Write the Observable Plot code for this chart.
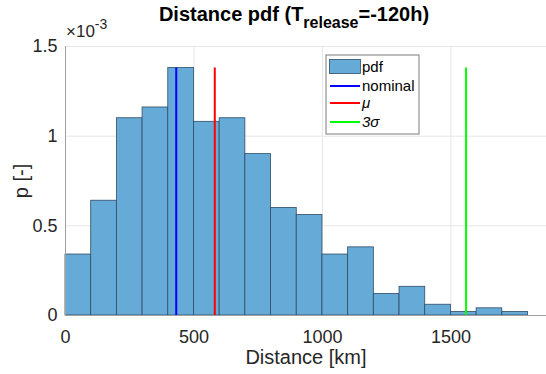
<!DOCTYPE html>
<html><head><meta charset="utf-8">
<script src="https://cdn.jsdelivr.net/npm/d3@7"></script>
<script src="https://cdn.jsdelivr.net/npm/@observablehq/plot@0.6"></script>
<style>
body{margin:0;background:#fff;font-family:"Liberation Sans",Arial,sans-serif;}
#wrap{position:relative;width:546px;height:374px;}
#title{position:absolute;left:0;width:588px;top:3px;text-align:center;font-weight:bold;font-size:20px;color:#000;white-space:nowrap;}
#title sub{font-size:16px;vertical-align:-7px;line-height:0;}
</style></head>
<body><div id="wrap"><div id="title">Distance pdf (T<sub>release</sub>=-120h)</div></div>
<script>
// bin edges (km) and pdf values (×10^-3)
const binStart = [0,100,200,300,400,500,600,700,800,900,1000,1100,1200,1300,1400,1500,1600,1700];
const binWidth = 100;
const pdf = [0.34,0.64,1.10,1.16,1.38,1.08,1.10,0.90,0.60,0.56,0.34,0.38,0.12,0.16,0.06,0.02,0.04,0.02];
const lineNames = ["nominal","\u03bc","3\u03c3"];
const lineValues = [431,581,1559];
const lineColors = ["#0000ff","#ff0000","#00ff00"];
const xTicks = [0,500,1000,1500];
const yTicks = [0,0.5,1,1.5];

const bins = binStart.map((s,i)=>({x1:s,x2:s+binWidth,p:pdf[i]}));
const pmax = d3.max(pdf);
const lines = lineValues.map((v,i)=>({x:v,name:lineNames[i],color:lineColors[i],top:pmax}));
const font = '"Liberation Sans",Arial,sans-serif';

const chart = Plot.plot({
  width:546, height:374,
  marginTop:46, marginBottom:59, marginLeft:65, marginRight:0,
  style:{fontFamily:font, color:"#262626", background:"#fff"},
  x:{domain:[0,1872]},
  y:{domain:[0,1.5]},
  marks:[
    Plot.gridX(xTicks.slice(1),{stroke:"#e6e6e6",strokeOpacity:1}),
    Plot.gridY(yTicks.slice(1),{stroke:"#e6e6e6",strokeOpacity:1}),
    Plot.rectY(bins,{x1:"x1",x2:"x2",y:"p",fill:"#66aad7",stroke:"#2f4c66",strokeWidth:0.8}),
    Plot.ruleX(lines,{x:"x",y1:0,y2:"top",stroke:"color",strokeWidth:2}),
    Plot.ruleY([0],{stroke:"#a0a0a0"}),
    Plot.ruleX([0],{stroke:"#a0a0a0"}),
    Plot.axisX(xTicks,{tickSize:0,tickPadding:15,fontSize:18,label:"Distance [km]",labelAnchor:"center",labelArrow:"none",labelOffset:48,tickFormat:d=>String(d)}),
    Plot.axisY(yTicks,{tickSize:0,tickPadding:8,fontSize:18,label:"p [-]",labelAnchor:"center",labelArrow:"none",labelOffset:52,tickFormat:d=>String(d)})
  ]
});
const svg = d3.select(chart);
svg.selectAll("[aria-label='x-axis label'] text, [aria-label='y-axis label'] text").style("font-size","20px");
// exponent label
const ex = svg.append("text").attr("x",66).attr("y",37).attr("text-anchor","start").attr("font-family",font).attr("fill","#262626").attr("font-size",17);
ex.append("tspan").text("\u00d710");
ex.append("tspan").attr("dy",-8).attr("font-size",14).text("-3");
// legend
const lg = svg.append("g").attr("font-family",font).attr("font-size",15).attr("fill","#000").attr("text-anchor","start");
lg.append("rect").attr("x",326).attr("y",55).attr("width",93).attr("height",79).attr("fill","#fff").attr("stroke","#7a7a7a").attr("stroke-width",1);
lg.append("rect").attr("x",329.5).attr("y",59.5).attr("width",31).attr("height",14).attr("fill","#66aad7").attr("stroke","#2f4c66").attr("stroke-width",0.8);
lg.append("text").attr("x",362).attr("y",72).text("pdf");
const ys=[86,103,122];
lines.forEach((l,i)=>{
  lg.append("line").attr("x1",330).attr("x2",360).attr("y1",ys[i]).attr("y2",ys[i]).attr("stroke",l.color).attr("stroke-width",2);
  const t=lg.append("text").attr("x",362).attr("y",ys[i]+5).text(l.name);
  if(i>0) t.attr("font-style","italic");
});
document.getElementById("wrap").appendChild(chart);
chart.style.position="absolute";chart.style.left="0";chart.style.top="0";
document.getElementById("title").style.zIndex=2;
</script></body></html>
